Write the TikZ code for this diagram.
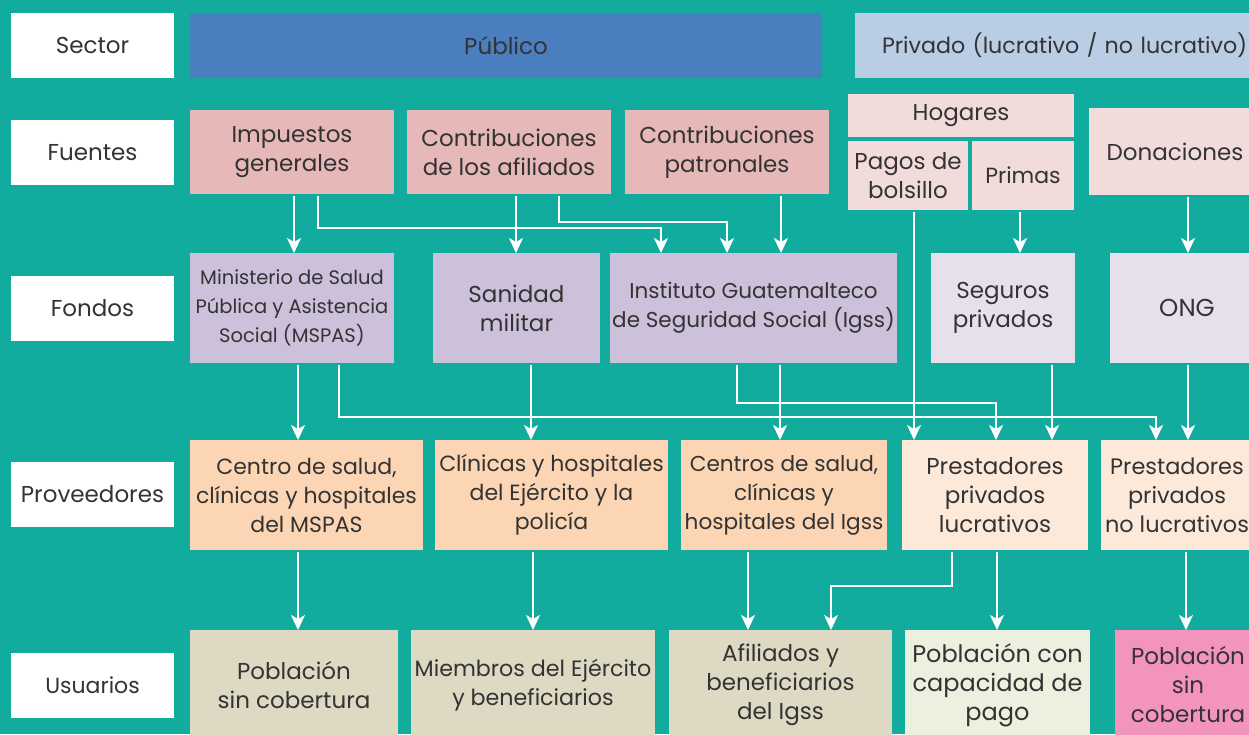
\documentclass[tikz,border=0pt]{standalone}
\usepackage{fontspec}
\setmainfont{Poppins}
\usetikzlibrary{arrows.meta}
\definecolor{bg}{HTML}{12AC9E}
\definecolor{txt}{HTML}{333333}
\definecolor{publico}{HTML}{4A7EBE}
\definecolor{privado}{HTML}{B9CDE5}
\definecolor{fpub}{HTML}{E6B8B7}
\definecolor{fpriv}{HTML}{F2DCDB}
\definecolor{dpub}{HTML}{CCC0DA}
\definecolor{dpriv}{HTML}{E5E0EC}
\definecolor{ppub}{HTML}{FCD5B4}
\definecolor{ppriv}{HTML}{FDE9D9}
\definecolor{upub}{HTML}{DDD9C3}
\definecolor{ugreen}{HTML}{EBF1DE}
\definecolor{upink}{HTML}{F294BE}
\newcommand\fs[1]{\fontsize{#1}{29}\selectfont}
\begin{document}
\begin{tikzpicture}[x=1pt,y=-1pt,
  box/.style={anchor=north west, inner sep=0pt, outer sep=0pt, align=center, text=txt,
    font=\fs{23}},
  lbl/.style={box, fill=white, minimum width=163pt, minimum height=65pt},
  arr/.style={draw=white, line width=1.8pt, -{Stealth[length=15pt,width=14pt,inset=4pt]}, shorten <=2pt}]
\useasboundingbox (0,0) rectangle (1249,734);
\fill[bg] (0,0) rectangle (1249,734);
\clip (0,0) rectangle (1249,734);
% row labels
\node[lbl] (lsector) at (11,13) {Sector};
\node[lbl] (lfuentes) at (11,120) {Fuentes};
\node[lbl] (lfondos) at (11,276) {Fondos};
\node[lbl] (lprov) at (11,462) {Proveedores};
\node[lbl, font=\fs{22}] (luser) at (11,653) {Usuarios};
% sector
\node[box, fill=publico, minimum width=632pt, minimum height=65pt] (pub) at (190,13) {Público};
\node[box, fill=privado, minimum width=500pt, minimum height=65pt, text width=446pt, inner xsep=27pt, align=left, font=\fs{22.2}] (priv) at (855,13) {Privado (lucrativo / no lucrativo)};
% fuentes
\node[box, fill=fpub, minimum width=204pt, minimum height=84pt] (imp) at (190,110) {Impuestos\\generales};
\node[box, fill=fpub, minimum width=204pt, minimum height=84pt] (afil) at (407,110) {Contribuciones\\de los afiliados};
\node[box, fill=fpub, minimum width=204pt, minimum height=84pt] (patr) at (625,110) {Contribuciones\\patronales};
\node[box, fill=fpriv, minimum width=226pt, minimum height=43pt] (hog) at (848,94) {Hogares};
\node[box, fill=fpriv, minimum width=120pt, minimum height=69pt] (pagos) at (848,141) {Pagos de\\bolsillo};
\node[box, fill=fpriv, minimum width=102pt, minimum height=69pt, font=\fs{22}] (primas) at (972,141) {Primas};
\node[box, fill=fpriv, minimum width=172pt, minimum height=87pt] (don) at (1089,108) {Donaciones};
% fondos
\node[box, fill=dpub, minimum width=204pt, minimum height=110pt, font=\fs{19.5}] (mspas) at (190,253) {Ministerio de Salud\\Pública y Asistencia\\Social (MSPAS)};
\node[box, fill=dpub, minimum width=167pt, minimum height=110pt] (sanidad) at (433,253) {Sanidad\\militar};
\node[box, fill=dpub, minimum width=287pt, minimum height=110pt, font=\fs{21.5}] (igss) at (610,253) {Instituto Guatemalteco\\de Seguridad Social (Igss)};
\node[box, fill=dpriv, minimum width=144pt, minimum height=110pt] (seguros) at (931,253) {Seguros\\privados};
\node[box, fill=dpriv, minimum width=154pt, minimum height=110pt, font=\fs{24.5}] (ong) at (1110,253) {ONG};
% proveedores
\node[box, fill=ppub, minimum width=233pt, minimum height=110pt, font=\fs{22}] (cmspas) at (190,440) {Centro de salud,\\clínicas y hospitales\\del MSPAS};
\node[box, fill=ppub, minimum width=233pt, minimum height=110pt, font=\fs{22}] (cej) at (435,440) {Clínicas y hospitales\\del Ejército y la\\policía};
\node[box, fill=ppub, minimum width=206pt, minimum height=110pt, font=\fs{21.6}] (cigss) at (681,440) {Centros de salud,\\clínicas y\\hospitales del Igss};
\node[box, fill=ppriv, minimum width=186pt, minimum height=110pt] (plu) at (902,440) {Prestadores\\privados\\lucrativos};
\node[box, fill=ppriv, minimum width=152pt, minimum height=110pt, font=\fs{22.4}] (pnl) at (1101,440) {Prestadores\\privados\\no lucrativos};
% usuarios
\node[box, fill=upub, minimum width=208pt, minimum height=110pt] (u1) at (190,630) {Población\\sin cobertura};
\node[box, fill=upub, minimum width=244pt, minimum height=110pt, font=\fs{22.2}] (u2) at (411,630) {Miembros del Ejército\\y beneficiarios};
\node[box, fill=upub, minimum width=223pt, minimum height=110pt] (u3) at (669,630) {Afiliados y\\beneficiarios\\del Igss};
\node[box, fill=ugreen, minimum width=185pt, minimum height=110pt, font=\fs{24}] (u4) at (905,630) {Población con\\capacidad de\\pago};
\node[box, fill=upink, minimum width=146pt, minimum height=110pt] (u5) at (1115,630) {Población\\sin\\cobertura};
% fuentes -> fondos
\draw[arr] (294,0 |- imp.south) -- (294,0 |- mspas.north);
\draw[arr] (318,0 |- imp.south) -- (318,228) -| (661,0 |- igss.north);
\draw[arr] (516,0 |- afil.south) -- (516,0 |- sanidad.north);
\draw[arr] (559,0 |- afil.south) -- (559,222) -| (727,0 |- igss.north);
\draw[arr] (781,0 |- patr.south) -- (781,0 |- igss.north);
\draw[arr] (914,0 |- pagos.south) -- (914,0 |- plu.north);
\draw[arr] (1020,0 |- primas.south) -- (1020,0 |- seguros.north);
\draw[arr] (1188,0 |- don.south) -- (1188,0 |- ong.north);
% fondos -> proveedores
\draw[arr] (298,0 |- mspas.south) -- (298,0 |- cmspas.north);
\draw[arr] (339,0 |- mspas.south) -- (339,417) -| (1156,0 |- pnl.north);
\draw[arr] (531,0 |- sanidad.south) -- (531,0 |- cej.north);
\draw[arr] (737,0 |- igss.south) -- (737,403) -| (996,0 |- plu.north);
\draw[arr] (780,0 |- igss.south) -- (780,0 |- cigss.north);
\draw[arr] (1052,0 |- seguros.south) -- (1052,0 |- plu.north);
\draw[arr] (1188,0 |- ong.south) -- (1188,0 |- pnl.north);
% proveedores -> usuarios
\draw[arr] (298,0 |- cmspas.south) -- (298,0 |- u1.north);
\draw[arr] (533,0 |- cej.south) -- (533,0 |- u2.north);
\draw[arr] (748,0 |- cigss.south) -- (748,0 |- u3.north);
\draw[arr] (952,0 |- plu.south) -- (952,586) -| (831,0 |- u3.north);
\draw[arr] (997,0 |- plu.south) -- (997,0 |- u4.north);
\draw[arr] (1186,0 |- pnl.south) -- (1186,0 |- u5.north);
\end{tikzpicture}
\end{document}
